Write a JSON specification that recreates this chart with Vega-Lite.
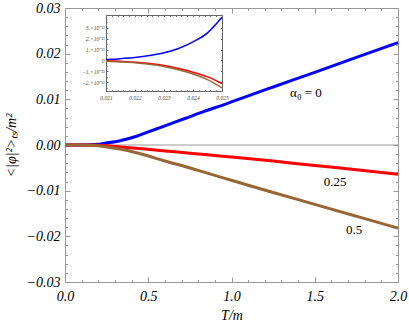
{
  "$schema": "https://vega.github.io/schema/vega-lite/v6.json",
  "width": 333,
  "height": 274,
  "autosize": "none",
  "padding": {"left": 65, "top": 8, "right": 11, "bottom": 45},
  "datasets": {
    "main": [
      {"T": 0, "v": 0, "s": "0"}, {"T": 0.1, "v": 0, "s": "0"}, {"T": 0.15, "v": 0.00003, "s": "0"}, {"T": 0.2, "v": 0.00015, "s": "0"}, {"T": 0.24, "v": 0.0004, "s": "0"}, {"T": 0.3, "v": 0.0007, "s": "0"}, {"T": 0.36, "v": 0.0012, "s": "0"}, {"T": 0.42, "v": 0.0018, "s": "0"}, {"T": 0.48, "v": 0.0026, "s": "0"}, {"T": 0.6, "v": 0.0042, "s": "0"}, {"T": 0.72, "v": 0.0058, "s": "0"}, {"T": 0.84, "v": 0.0074, "s": "0"}, {"T": 0.96, "v": 0.0089, "s": "0"}, {"T": 1.08, "v": 0.0105, "s": "0"}, {"T": 1.25, "v": 0.0127, "s": "0"}, {"T": 1.5, "v": 0.0159, "s": "0"}, {"T": 1.75, "v": 0.0192, "s": "0"}, {"T": 2.0, "v": 0.0224, "s": "0"},
      {"T": 0, "v": 0, "s": "0.25"}, {"T": 0.1, "v": 0, "s": "0.25"}, {"T": 0.15, "v": -0.00002, "s": "0.25"}, {"T": 0.2, "v": -0.00006, "s": "0.25"}, {"T": 0.24, "v": -0.00012, "s": "0.25"}, {"T": 0.3, "v": -0.0003, "s": "0.25"}, {"T": 0.36, "v": -0.0005, "s": "0.25"}, {"T": 0.48, "v": -0.0009, "s": "0.25"}, {"T": 0.6, "v": -0.0013, "s": "0.25"}, {"T": 0.72, "v": -0.0017, "s": "0.25"}, {"T": 0.84, "v": -0.0021, "s": "0.25"}, {"T": 0.96, "v": -0.0025, "s": "0.25"}, {"T": 1.08, "v": -0.0029, "s": "0.25"}, {"T": 1.25, "v": -0.0035, "s": "0.25"}, {"T": 1.5, "v": -0.0045, "s": "0.25"}, {"T": 1.75, "v": -0.0054, "s": "0.25"}, {"T": 2.0, "v": -0.0064, "s": "0.25"},
      {"T": 0, "v": 0, "s": "0.5"}, {"T": 0.1, "v": 0, "s": "0.5"}, {"T": 0.15, "v": -0.00003, "s": "0.5"}, {"T": 0.2, "v": -0.00015, "s": "0.5"}, {"T": 0.24, "v": -0.0004, "s": "0.5"}, {"T": 0.3, "v": -0.0007, "s": "0.5"}, {"T": 0.36, "v": -0.0011, "s": "0.5"}, {"T": 0.48, "v": -0.0022, "s": "0.5"}, {"T": 0.6, "v": -0.0035, "s": "0.5"}, {"T": 0.72, "v": -0.0047, "s": "0.5"}, {"T": 0.84, "v": -0.006, "s": "0.5"}, {"T": 0.96, "v": -0.0073, "s": "0.5"}, {"T": 1.08, "v": -0.0086, "s": "0.5"}, {"T": 1.25, "v": -0.0104, "s": "0.5"}, {"T": 1.5, "v": -0.013, "s": "0.5"}, {"T": 1.75, "v": -0.0156, "s": "0.5"}, {"T": 2.0, "v": -0.0182, "s": "0.5"}
    ],
    "inset": [
      {"t": 0.021, "w": 9e-15, "s": "0"}, {"t": 0.0215, "w": 1.7e-14, "s": "0"}, {"t": 0.022, "w": 2.8e-14, "s": "0"}, {"t": 0.0225, "w": 4.5e-14, "s": "0"}, {"t": 0.023, "w": 7e-14, "s": "0"}, {"t": 0.0235, "w": 1.1e-13, "s": "0"}, {"t": 0.024, "w": 1.7e-13, "s": "0"}, {"t": 0.0245, "w": 2.53e-13, "s": "0"}, {"t": 0.025, "w": 3.95e-13, "s": "0"},
      {"t": 0.021, "w": -3e-15, "s": "0.25"}, {"t": 0.0215, "w": -8e-15, "s": "0.25"}, {"t": 0.022, "w": -1.5e-14, "s": "0.25"}, {"t": 0.0225, "w": -2.8e-14, "s": "0.25"}, {"t": 0.023, "w": -4.6e-14, "s": "0.25"}, {"t": 0.0235, "w": -7.3e-14, "s": "0.25"}, {"t": 0.024, "w": -1.07e-13, "s": "0.25"}, {"t": 0.0245, "w": -1.5e-13, "s": "0.25"}, {"t": 0.025, "w": -2.1e-13, "s": "0.25"},
      {"t": 0.021, "w": -8e-15, "s": "0.5"}, {"t": 0.0215, "w": -1.3e-14, "s": "0.5"}, {"t": 0.022, "w": -2e-14, "s": "0.5"}, {"t": 0.0225, "w": -3.4e-14, "s": "0.5"}, {"t": 0.023, "w": -5.5e-14, "s": "0.5"}, {"t": 0.0235, "w": -8.5e-14, "s": "0.5"}, {"t": 0.024, "w": -1.23e-13, "s": "0.5"}, {"t": 0.0245, "w": -1.75e-13, "s": "0.5"}, {"t": 0.025, "w": -2.5e-13, "s": "0.5"}
    ],
    "labels": [
      {"T": 1.447, "v": 0.0114, "label": "α₀ = 0"},
      {"T": 1.622, "v": -0.0081, "label": "0.25"},
      {"T": 1.736, "v": -0.0186, "label": "0.5"}
    ]
  },
  "config": {
    "font": "Liberation Serif",
    "view": {"stroke": null},
    "axis": {
      "grid": false,
      "domainColor": "#999999",
      "tickColor": "#999999",
      "labelColor": "#000000",
      "labelFont": "Liberation Serif",
      "labelFontStyle": "italic",
      "titleFont": "Liberation Serif",
      "titleFontStyle": "italic",
      "titleFontWeight": "normal",
      "titleColor": "#000000",
      "labelFlush": false,
      "labelOverlap": false
    },
    "text": {"font": "Liberation Serif"}
  },
  "resolve": {
    "scale": {"x": "independent", "y": "independent", "color": "independent"},
    "axis": {"x": "independent", "y": "independent"}
  },
  "layer": [
    {
      "data": {"values": [{"z": 0}]},
      "mark": {"type": "rule", "color": "#999999", "strokeWidth": 1},
      "encoding": {"y": {"field": "z", "type": "quantitative", "scale": {"domain": [-0.03, 0.03], "nice": false}, "axis": null}}
    },
    {
      "data": {"name": "main"},
      "mark": {"type": "line", "strokeWidth": 3, "interpolate": "monotone"},
      "encoding": {
        "x": {"field": "T", "type": "quantitative", "scale": {"domain": [0, 2], "nice": false},
          "axis": {"orient": "bottom", "values": [0, 0.5, 1, 1.5, 2], "format": ".1f", "tickSize": -5, "labelPadding": 12, "labelFontSize": 14,
            "title": "T/m", "titleFontSize": 14, "titleX": 166.5, "titleY": 33, "titleBaseline": "middle", "titleAlign": "center"}},
        "y": {"field": "v", "type": "quantitative", "scale": {"domain": [-0.03, 0.03], "nice": false, "zero": false},
          "axis": {"orient": "left", "values": [-0.03, -0.02, -0.01, 0, 0.01, 0.02, 0.03], "format": ".2f", "tickSize": -5, "labelPadding": 10, "labelFontSize": 14,
            "title": "<|φ|²>ₜₛ/m²", "titleFontSize": 14, "titleAngle": -90, "titleX": -54, "titleY": 137, "titleBaseline": "middle", "titleAlign": "center"}},
        "color": {"field": "s", "type": "nominal", "scale": {"domain": ["0", "0.25", "0.5"], "range": ["#0000ff", "#ff0000", "#996633"]}, "legend": null}
      }
    },
    {
      "data": {"name": "main"},
      "mark": {"type": "line", "opacity": 0},
      "encoding": {
        "x": {"field": "T", "type": "quantitative", "scale": {"domain": [0, 2], "nice": false},
          "axis": {"orient": "bottom", "values": [0.1, 0.2, 0.3, 0.4, 0.6, 0.7, 0.8, 0.9, 1.1, 1.2, 1.3, 1.4, 1.6, 1.7, 1.8, 1.9], "tickSize": -2.5, "labels": false, "title": null}},
        "y": {"field": "v", "type": "quantitative", "scale": {"domain": [-0.03, 0.03], "nice": false, "zero": false},
          "axis": {"orient": "left", "values": [-0.028, -0.026, -0.024, -0.022, -0.018, -0.016, -0.014, -0.012, -0.008, -0.006, -0.004, -0.002, 0.002, 0.004, 0.006, 0.008, 0.012, 0.014, 0.016, 0.018, 0.022, 0.024, 0.026, 0.028], "tickSize": -2.5, "labels": false, "title": null}}
      }
    },
    {
      "data": {"name": "main"},
      "mark": {"type": "line", "opacity": 0},
      "encoding": {
        "x": {"field": "T", "type": "quantitative", "scale": {"domain": [0, 2], "nice": false},
          "axis": {"orient": "top", "values": [0, 0.5, 1, 1.5, 2], "tickSize": -5, "labels": false, "title": null}},
        "y": {"field": "v", "type": "quantitative", "scale": {"domain": [-0.03, 0.03], "nice": false, "zero": false},
          "axis": {"orient": "right", "values": [-0.03, -0.02, -0.01, 0, 0.01, 0.02, 0.03], "tickSize": -5, "labels": false, "title": null}}
      }
    },
    {
      "data": {"name": "main"},
      "mark": {"type": "line", "opacity": 0},
      "encoding": {
        "x": {"field": "T", "type": "quantitative", "scale": {"domain": [0, 2], "nice": false},
          "axis": {"orient": "top", "values": [0.1, 0.2, 0.3, 0.4, 0.6, 0.7, 0.8, 0.9, 1.1, 1.2, 1.3, 1.4, 1.6, 1.7, 1.8, 1.9], "tickSize": -2.5, "labels": false, "title": null}},
        "y": {"field": "v", "type": "quantitative", "scale": {"domain": [-0.03, 0.03], "nice": false, "zero": false},
          "axis": {"orient": "right", "values": [-0.028, -0.026, -0.024, -0.022, -0.018, -0.016, -0.014, -0.012, -0.008, -0.006, -0.004, -0.002, 0.002, 0.004, 0.006, 0.008, 0.012, 0.014, 0.016, 0.018, 0.022, 0.024, 0.026, 0.028], "tickSize": -2.5, "labels": false, "title": null}}
      }
    },
    {
      "data": {"name": "labels"},
      "mark": {"type": "text", "font": "Liberation Serif", "fontSize": 13, "align": "center", "baseline": "middle", "color": "#000000"},
      "encoding": {
        "x": {"field": "T", "type": "quantitative", "scale": {"domain": [0, 2], "nice": false}, "axis": null},
        "y": {"field": "v", "type": "quantitative", "scale": {"domain": [-0.03, 0.03], "nice": false, "zero": false}, "axis": null},
        "text": {"field": "label"}
      }
    },
    {
      "data": {"name": "inset"},
      "mark": {"type": "line", "strokeWidth": 1.5, "interpolate": "monotone"},
      "encoding": {
        "x": {"field": "t", "type": "quantitative", "scale": {"domain": [0.021, 0.025], "range": [41, 157], "nice": false, "zero": false},
          "axis": {"orient": "bottom", "offset": -191, "values": [0.021, 0.022, 0.023, 0.024, 0.025], "format": ".3f", "tickSize": -2, "labelPadding": 6, "labelFontSize": 5.5, "domainColor": "#666666", "tickColor": "#666666", "labelColor": "#444444", "title": null}},
        "y": {"field": "w", "type": "quantitative", "scale": {"domain": [-2.79e-13, 4.16e-13], "range": [83, 7], "nice": false, "zero": false},
          "axis": {"orient": "left", "offset": -41, "values": [-2e-13, -1e-13, 0, 1e-13, 2e-13, 3e-13], "labelExpr": "datum.value == 0 ? '0' : (datum.value < 0 ? '−' : '') + round(abs(datum.value) * 1e13) + '.×10⁻¹³'", "tickSize": -2, "labelPadding": 4, "labelFontSize": 5.5, "domainColor": "#666666", "tickColor": "#666666", "labelColor": "#444444", "title": null}},
        "color": {"field": "s", "type": "nominal", "scale": {"domain": ["0", "0.25", "0.5"], "range": ["#0000ff", "#ff0000", "#996633"]}, "legend": null}
      }
    },
    {
      "data": {"name": "inset"},
      "mark": {"type": "line", "opacity": 0},
      "encoding": {
        "x": {"field": "t", "type": "quantitative", "scale": {"domain": [0.021, 0.025], "range": [41, 157], "nice": false, "zero": false},
          "axis": {"orient": "top", "offset": -7, "values": [0.021, 0.0212, 0.0214, 0.0216, 0.0218, 0.022, 0.0222, 0.0224, 0.0226, 0.0228, 0.023, 0.0232, 0.0234, 0.0236, 0.0238, 0.024, 0.0242, 0.0244, 0.0246, 0.0248, 0.025], "tickSize": -1.5, "labels": false, "domainColor": "#666666", "tickColor": "#666666", "title": null}},
        "y": {"field": "w", "type": "quantitative", "scale": {"domain": [-2.79e-13, 4.16e-13], "range": [83, 7], "nice": false, "zero": false},
          "axis": {"orient": "right", "offset": -176, "values": [-2e-13, -1e-13, 0, 1e-13, 2e-13, 3e-13, 4e-13], "tickSize": -1.5, "labels": false, "domainColor": "#666666", "tickColor": "#666666", "title": null}}
      }
    },
    {
      "data": {"name": "inset"},
      "mark": {"type": "line", "opacity": 0},
      "encoding": {
        "x": {"field": "t", "type": "quantitative", "scale": {"domain": [0.021, 0.025], "range": [41, 157], "nice": false, "zero": false},
          "axis": {"orient": "bottom", "offset": -191, "values": [0.0212, 0.0214, 0.0216, 0.0218, 0.0222, 0.0224, 0.0226, 0.0228, 0.0232, 0.0234, 0.0236, 0.0238, 0.0242, 0.0244, 0.0246, 0.0248], "tickSize": -1.2, "labels": false, "domain": false, "tickColor": "#666666", "title": null}},
        "y": {"field": "w", "type": "quantitative", "scale": {"domain": [-2.79e-13, 4.16e-13], "range": [83, 7], "nice": false, "zero": false},
          "axis": {"orient": "left", "offset": -41, "values": [-2.5e-13, -1.5e-13, -0.5e-13, 0.5e-13, 1.5e-13, 2.5e-13, 3.5e-13], "tickSize": -1.2, "labels": false, "domain": false, "tickColor": "#666666", "title": null}}
      }
    }
  ]
}
